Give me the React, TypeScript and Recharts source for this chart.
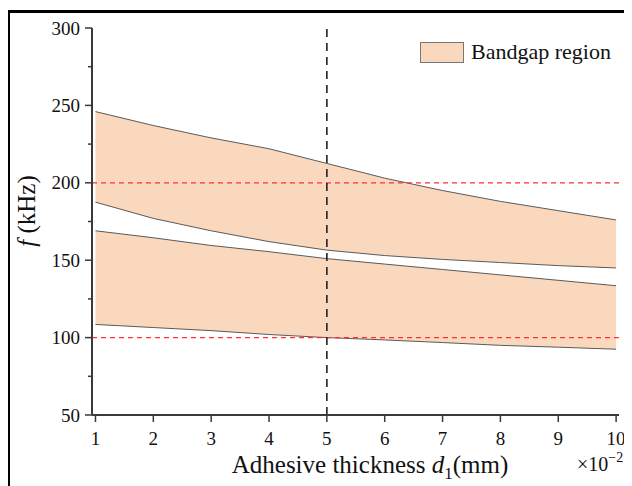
import React from "react";
import {
  ComposedChart,
  Area,
  XAxis,
  YAxis,
  ReferenceLine,
} from "recharts";

// adhesive thickness d1, in units of 1e-2 mm
const thickness = [1, 2, 3, 4, 5, 6, 7, 8, 9, 10];
// upper bandgap edges (kHz)
const band1Upper = [246, 237, 229, 222, 212.5, 203, 195, 188, 182, 176];
const band1Lower = [187.5, 177, 169, 162, 156.5, 153, 150.5, 148.5, 146.5, 145];
// lower bandgap edges (kHz)
const band2Upper = [169, 164.5, 159.5, 155.5, 151, 147.5, 144, 140.5, 137, 133.5];
const band2Lower = [108.5, 106.5, 104.5, 102, 100, 98.5, 96.8, 95, 93.8, 92.5];

const xTicks = [1, 2, 3, 4, 5, 6, 7, 8, 9, 10];
const yTicks = [50, 75, 100, 125, 150, 175, 200, 225, 250, 275, 300];
const targetFreqs = [100, 200];
const markedThickness = 5;

const data = thickness.map((d, i) => ({
  d,
  gap1: [band1Lower[i], band1Upper[i]],
  gap2: [band2Lower[i], band2Upper[i]],
}));

const FONT = "'Liberation Serif', 'Times New Roman', serif";
const FILL = "#F9D8BD";
const EDGE = "#5a5a5a";
const AXIS = "#3a3a3a";

// y ticks: label only every 50, short tick for the in-between values
const YTick = (props: any) => {
  const { x, y, payload } = props;
  const v = payload.value;
  const major = v % 50 === 0;
  const axisX = x + 12;
  return (
    <g>
      <line x1={axisX - (major ? 7 : 4)} x2={axisX} y1={y} y2={y} stroke={AXIS} strokeWidth={1.5} />
      {major && (
        <text x={x} y={y} dy="0.35em" textAnchor="end" fontFamily={FONT} fontSize={19} fill="#111">
          {v}
        </text>
      )}
    </g>
  );
};

const YTitle = () => (
  <text
    x={35}
    y={211}
    transform="rotate(-90 35 211)"
    textAnchor="middle"
    fontFamily={FONT}
    fontSize={25}
    fill="#111"
  >
    <tspan fontStyle="italic">f</tspan>
    <tspan> (kHz)</tspan>
  </text>
);

const XTitle = () => (
  <g>
    <text x={370} y={473} textAnchor="middle" fontFamily={FONT} fontSize={25} fill="#111">
      <tspan>Adhesive thickness </tspan>
      <tspan fontStyle="italic">d</tspan>
      <tspan fontSize={17} dy={6}>1</tspan>
      <tspan dy={-6}>(mm)</tspan>
    </text>
    <text x={577} y={471} fontFamily={FONT} fontSize={20} fill="#111">
      <tspan>×10</tspan>
      <tspan fontSize={14} dy={-9}>−2</tspan>
    </text>
  </g>
);

export default function App() {
  return (
    <div
      style={{
        position: "relative",
        width: 632,
        height: 486,
        marginLeft: -8,
        marginTop: -8,
        overflow: "hidden",
        background: "#fff",
      }}
    >
      <div
        style={{
          position: "absolute",
          left: 7,
          top: 10,
          width: 700,
          height: 600,
          border: "3px solid #000",
        }}
      />
      <div style={{ position: "absolute", left: 0, top: 0 }}>
        <ComposedChart width={632} height={486} data={data} margin={{ top: 28, right: 13, bottom: 0, left: 0 }}>
          <XAxis
            dataKey="d"
            type="number"
            domain={[0.94, 10.05]}
            ticks={xTicks}
            interval={0}
            height={71}
            tickSize={7}
            tickMargin={10}
            axisLine={{ stroke: AXIS, strokeWidth: 2 }}
            tickLine={{ stroke: AXIS, strokeWidth: 1.5 }}
            tick={{ fontFamily: FONT, fontSize: 19, fill: "#111" }}
            label={{ content: XTitle }}
          />
          <XAxis
            xAxisId="top"
            orientation="top"
            dataKey="d"
            type="number"
            domain={[0.94, 10.05]}
            height={0}
            tick={false}
            tickLine={false}
            axisLine={{ stroke: AXIS, strokeWidth: 1.5 }}
          />
          <YAxis
            type="number"
            domain={[50, 300]}
            ticks={yTicks}
            interval={0}
            width={92}
            tickSize={7}
            tickMargin={5}
            tickLine={false}
            axisLine={{ stroke: AXIS, strokeWidth: 2 }}
            tick={YTick}
            label={{ content: YTitle }}
          />
          <YAxis
            yAxisId="right"
            orientation="right"
            type="number"
            domain={[50, 300]}
            width={0}
            tick={false}
            tickLine={false}
            axisLine={{ stroke: AXIS, strokeWidth: 1.5 }}
          />
          <Area
            dataKey="gap1"
            type="linear"
            fill={FILL}
            fillOpacity={1}
            stroke={EDGE}
            strokeWidth={1}
            dot={false}
            activeDot={false}
            isAnimationActive={false}
          />
          <Area
            dataKey="gap2"
            type="linear"
            fill={FILL}
            fillOpacity={1}
            stroke={EDGE}
            strokeWidth={1}
            dot={false}
            activeDot={false}
            isAnimationActive={false}
          />
          {targetFreqs.map((f) => (
            <ReferenceLine key={f} y={f} stroke="#ff3030" strokeWidth={1.2} strokeDasharray="5 4" />
          ))}
          <ReferenceLine x={markedThickness} stroke="#222" strokeWidth={1.6} strokeDasharray="8 6" />
        </ComposedChart>
      </div>
      <div
        style={{
          position: "absolute",
          left: 420,
          top: 39,
          display: "flex",
          alignItems: "center",
          fontFamily: FONT,
          fontSize: 22,
          color: "#111",
        }}
      >
        <span
          style={{
            display: "inline-block",
            width: 44,
            height: 21,
            background: FILL,
            border: "1px solid #777",
            boxSizing: "border-box",
            marginRight: 7,
          }}
        />
        <span>Bandgap region</span>
      </div>
    </div>
  );
}
